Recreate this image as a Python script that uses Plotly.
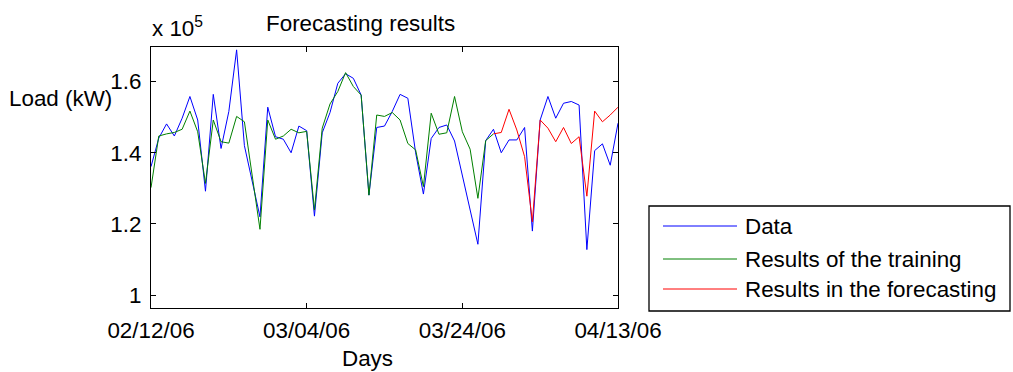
import plotly.graph_objects as go
import pandas as pd

start_date = "2006-02-12"
n_days = 61
dates = pd.date_range(start_date, periods=n_days, freq="D")

# Load in kW (axis scaled x 10^5)
data_load = [136100, 144100, 148100, 144700, 149700, 155800, 149200, 129200, 156400, 141200,
             151600, 168900, 142000, 132000, 122000, 152800, 144500, 143800, 140000, 147500,
             146200, 122200, 145600, 151300, 159500, 162200, 160900, 156200, 128100, 147100,
             147500, 151600, 156400, 155300, 140000, 128400, 144000, 147100, 147800, 143300,
             133500, 123900, 114300, 143400, 146600, 140000, 143600, 143600, 147100, 118000,
             149200, 155800, 149700, 153900, 154400, 153400, 112800, 140600, 142500, 136500,
             148300]
training = [130200, 144700, 145300, 145700, 146600, 151700, 145900, 131400, 149200, 143100,
            142700, 150200, 148700, 133000, 118500, 149200, 143800, 144700, 146600, 145600,
            146000, 123900, 146900, 153700, 157200, 162500, 158600, 156200, 128100, 150600,
            150200, 151300, 149200, 142600, 140800, 130500, 151100, 145200, 145600, 155800,
            145900, 141000, 127200, 143400, 145300]
forecast = [145300, 145700, 152200, 146400, 138900, 120600, 149200, 146900, 143100, 147100,
            142600, 144500, 127800, 151700, 148700, 150600, 152800]
forecast_start = 44

series_names = ["Data", "Results of the training", "Results in the forecasting"]
series_colors = ["#0000FF", "#008000", "#FF0000"]

x_tick_dates = ["2006-02-12", "2006-03-04", "2006-03-24", "2006-04-13"]
x_tick_text = ["02/12/06", "03/04/06", "03/24/06", "04/13/06"]
y_tick_vals = [100000, 120000, 140000, 160000]
y_tick_text = ["1", "1.2", "1.4", "1.6"]

FONT = "Liberation Sans, Arial, Helvetica, sans-serif"
FS = 22.4

fig = go.Figure()
fig.add_trace(go.Scatter(x=dates, y=data_load, mode="lines", name=series_names[0],
                         line=dict(color=series_colors[0], width=1)))
fig.add_trace(go.Scatter(x=dates[:len(training)], y=training, mode="lines",
                         name=series_names[1],
                         line=dict(color=series_colors[1], width=1)))
fig.add_trace(go.Scatter(x=dates[forecast_start:forecast_start + len(forecast)], y=forecast,
                         mode="lines", name=series_names[2],
                         line=dict(color=series_colors[2], width=1)))

W, H = 1013, 372
L, R, T, B = 151, 618, 47, 308

def px_x(p):
    return (p - L) / (R - L)

def px_y(p):
    return (B - p) / (B - T)

fig.update_layout(
    width=W, height=H,
    margin=dict(l=L, r=W - R, t=T, b=H - B, pad=0),
    paper_bgcolor="white", plot_bgcolor="white",
    font=dict(family=FONT, size=FS, color="black"),
    showlegend=False,
    xaxis=dict(type="date", range=[dates[0], dates[-1]],
               tickvals=x_tick_dates, ticktext=x_tick_text,
               ticks="inside", ticklen=5, tickcolor="black", tickwidth=1,
               showline=True, linecolor="black", linewidth=1.3, mirror="ticks",
               showgrid=False, zeroline=False, ticklabelstandoff=2,
               tickfont=dict(size=FS)),
    yaxis=dict(range=[96400, 169700],
               tickvals=y_tick_vals, ticktext=y_tick_text,
               ticks="inside", ticklen=5, tickcolor="black", tickwidth=1,
               showline=True, linecolor="black", linewidth=1.3, mirror="ticks",
               showgrid=False, zeroline=False, ticklabelstandoff=4,
               tickfont=dict(size=FS)),
)

# Legend box (drawn manually to match the reference layout)
fig.add_shape(type="rect", xref="paper", yref="paper",
              x0=px_x(649), x1=px_x(1010), y0=px_y(311), y1=px_y(206),
              line=dict(color="black", width=1.3), fillcolor="white", layer="above")
legend_rows = [226, 259, 289]
for name, color, ry in zip(series_names, series_colors, legend_rows):
    fig.add_shape(type="line", xref="paper", yref="paper",
                  x0=px_x(663), x1=px_x(737), y0=px_y(ry), y1=px_y(ry),
                  line=dict(color=color, width=1), layer="above")
    fig.add_annotation(text=name, x=px_x(743), y=px_y(ry), xref="paper", yref="paper",
                       showarrow=False, xanchor="left", yanchor="middle", font=dict(size=FS))

fig.add_annotation(text="Forecasting results", x=px_x(360), y=px_y(24), xref="paper", yref="paper",
                   showarrow=False, xanchor="center", yanchor="middle", font=dict(size=FS))
fig.add_annotation(text="x 10<sup>5</sup>", x=px_x(150), y=px_y(27), xref="paper", yref="paper",
                   showarrow=False, xanchor="left", yanchor="middle", font=dict(size=FS))
fig.add_annotation(text="Load (kW)", x=px_x(114), y=px_y(98), xref="paper", yref="paper",
                   showarrow=False, xanchor="right", yanchor="middle", font=dict(size=FS))
fig.add_annotation(text="Days", x=px_x(367), y=px_y(358), xref="paper", yref="paper",
                   showarrow=False, xanchor="center", yanchor="middle", font=dict(size=FS))

fig.write_html("out.html", config={"displayModeBar": False},
               post_script="document.body.style.margin='0px';document.body.style.overflow='hidden';")
